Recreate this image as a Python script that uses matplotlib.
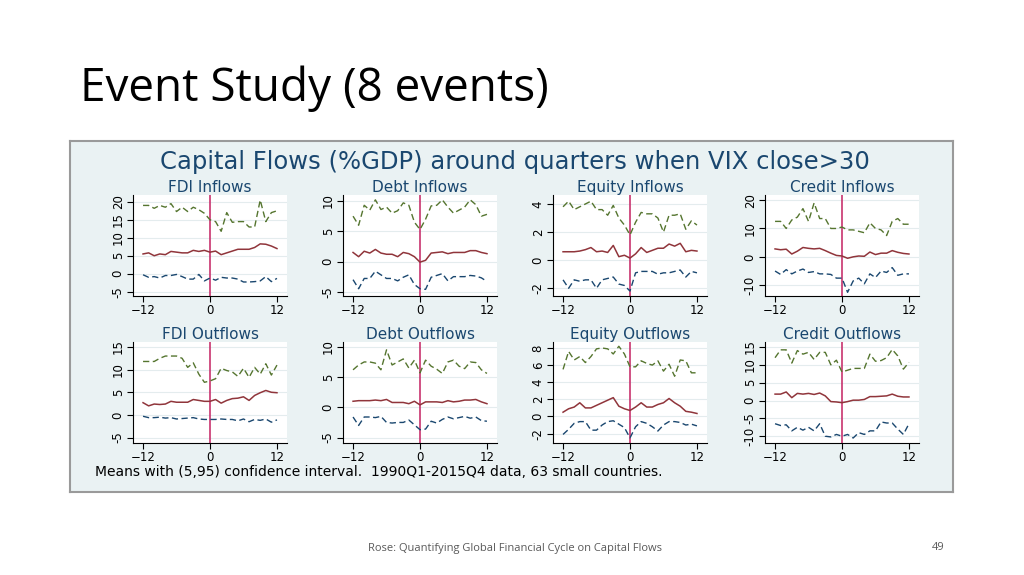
import matplotlib
matplotlib.use("Agg")
from matplotlib import pyplot as plt

# quarters around the VIX event
quarters = list(range(-12, 13))

# FDI inflows
fdi_in_hi = [19, 19, 18.2, 19, 18.5, 19.5, 17.3, 18.5, 17.3, 18.5, 17.8, 16.8, 15,
             14.5, 11.8, 17, 14.3, 14.5, 14.5, 13, 13, 20.5, 14.5, 17, 17.5]
fdi_in_mean = [5.5, 5.8, 5, 5.5, 5.3, 6.2, 6, 5.8, 5.8, 6.5, 6.2, 6.5, 6,
               6.3, 5.3, 5.8, 6.3, 6.8, 6.8, 6.8, 7.3, 8.3, 8.2, 7.7, 7]
fdi_in_lo = [-0.3, -1, -0.8, -1.2, -0.5, -0.5, -0.2, -0.8, -1.5, -1.5, -0.2, -2, -1.2,
             -1.8, -1, -1.2, -1.2, -1.5, -2.3, -2.3, -2.2, -2, -0.8, -2.2, -1.3]

# debt inflows
debt_in_hi = [7.5, 6, 9.3, 8.5, 10.2, 8.6, 9, 8, 8.4, 9.7, 9.3, 6.5, 5.3,
              7, 9.2, 9.3, 10.2, 9, 8, 8.5, 9, 10.2, 9.4, 7.5, 7.8]
debt_in_mean = [1.5, 0.8, 1.7, 1.4, 2, 1.4, 1.2, 1.2, 0.8, 1.5, 1.3, 0.8, -0.1,
                0.2, 1.4, 1.5, 1.6, 1.3, 1.5, 1.5, 1.5, 1.8, 1.8, 1.5, 1.3]
debt_in_lo = [-3, -4.5, -2.8, -2.8, -1.6, -2.2, -2.8, -2.8, -3.2, -2.6, -2.2, -3.8, -4.5,
              -4.6, -2.6, -2.3, -2, -3.2, -2.5, -2.5, -2.5, -2.3, -2.4, -2.7, -3.3]

# equity inflows
eq_in_hi = [3.8, 4.2, 3.6, 3.8, 4, 4.2, 3.6, 3.6, 3.2, 3.9, 3.0, 2.5, 1.8,
            2.7, 3.4, 3.3, 3.3, 3.0, 2.0, 3.2, 3.2, 3.3, 2.2, 2.8, 2.5]
eq_in_mean = [0.6, 0.6, 0.6, 0.65, 0.75, 0.9, 0.6, 0.65, 0.55, 1.05, 0.25, 0.35, 0.15,
              0.45, 0.9, 0.55, 0.7, 0.85, 0.85, 1.15, 1.0, 1.2, 0.6, 0.7, 0.65]
eq_in_lo = [-1.4, -2.0, -1.4, -1.5, -1.4, -1.4, -2.0, -1.4, -1.3, -1.2, -1.7, -1.8, -2.2,
            -0.9, -0.8, -0.8, -0.8, -1.0, -0.9, -0.9, -0.8, -0.7, -1.2, -0.8, -0.9]

# credit inflows
cr_in_hi = [12.5, 12.5, 10, 13, 14, 17, 12.5, 19, 13.5, 13.5, 10, 10, 10.5,
            9.5, 9.5, 9, 8.5, 12, 10, 9.5, 7.5, 12.5, 13.5, 11.5, 11.5]
cr_in_mean = [2.8, 2.5, 2.7, 1, 2, 3.3, 3, 2.8, 3, 2.2, 1.3, 0.5, 0.3,
              -0.5, 0, 0.3, 0.2, 1.7, 0.8, 1.3, 1.3, 2.2, 1.6, 1.2, 1]
cr_in_lo = [-5, -6.2, -4.5, -6, -5, -4.3, -5.5, -5.2, -6, -6, -6.2, -7.5, -7.5,
            -12.5, -8.5, -7.5, -9.5, -6, -7.3, -5, -5.5, -3.8, -6.5, -6, -6]

# FDI outflows
fdi_out_hi = [11.8, 11.8, 11.8, 12.5, 13, 13, 13, 12.5, 10.5, 11.5, 9, 7.2, 7.5,
              8, 10.3, 9.8, 9.5, 8.5, 10.3, 8.3, 10.5, 9, 11.3, 8.8, 11]
fdi_out_mean = [2.7, 2, 2.4, 2.3, 2.4, 3, 2.8, 2.8, 2.8, 3.4, 3.2, 3, 3,
                3.4, 2.6, 3.2, 3.6, 3.7, 4, 3.2, 4.3, 4.9, 5.4, 5, 4.9]
fdi_out_lo = [-0.3, -0.6, -0.6, -0.5, -0.7, -0.6, -0.9, -0.8, -0.7, -0.6, -0.9, -1.0, -1.0,
              -1.0, -0.9, -1.0, -1.0, -1.3, -0.9, -1.5, -1.0, -1.2, -0.9, -1.6, -1.1]

# debt outflows
debt_out_hi = [6.2, 7, 7.5, 7.5, 7.3, 6.2, 9.5, 7, 7.5, 8, 6.5, 7.8, 5.7,
               7.8, 6.8, 6.3, 5.6, 7.5, 7.8, 6.8, 6.4, 7.5, 7.4, 6.2, 5.6]
debt_out_mean = [1, 1.1, 1.1, 1.1, 1.2, 1.1, 1.3, 0.8, 0.8, 0.8, 0.6, 1, 0.4,
                 0.9, 0.9, 0.9, 0.8, 1.1, 0.9, 1.0, 1.2, 1.2, 1.3, 0.9, 0.6]
debt_out_lo = [-1.6, -3, -1.6, -1.6, -1.7, -1.5, -2.5, -2.6, -2.5, -2.5, -2.1, -2.9, -3.7,
               -3.6, -2.3, -2.6, -2, -1.6, -1.9, -1.7, -1.5, -1.8, -1.6, -2.2, -2.3]

# equity outflows
eq_out_hi = [5.5, 7.6, 6.6, 7, 6.3, 7, 7.9, 8, 7.9, 7.3, 8.2, 7.3, 5.8,
             5.8, 6.5, 6.2, 6, 6.5, 5.3, 6.1, 4.7, 6.6, 6.5, 5.1, 5.1]
eq_out_mean = [0.5, 0.9, 1.1, 1.6, 1.0, 1.0, 1.3, 1.6, 1.9, 2.2, 1.2, 0.9, 0.7,
               1.1, 1.6, 1.1, 1.1, 1.4, 1.6, 2.1, 1.6, 1.2, 0.6, 0.5, 0.35]
eq_out_lo = [-2.1, -1.5, -0.8, -0.6, -0.6, -1.6, -1.6, -1.0, -0.6, -0.5, -0.9, -1.3, -2.5,
             -1.2, -0.6, -0.8, -1.2, -1.7, -1.0, -0.6, -0.6, -0.7, -1.0, -0.9, -1.1]

# credit outflows
cr_out_hi = [12, 14.2, 14.2, 10.5, 14, 13, 13.5, 11.5, 13.5, 13.5, 10, 11.3, 8,
             8.5, 9, 9, 9, 13, 11, 11.2, 12, 14.3, 12.5, 8.8, 10.7]
cr_out_mean = [1.8, 1.8, 2.4, 0.8, 2, 1.8, 2, 1.7, 2.1, 1.3, -0.3, -0.4, -0.6,
               -0.3, 0.1, 0.1, 0.3, 1.1, 1.1, 1.2, 1.3, 1.8, 1.2, 1.0, 1.0]
cr_out_lo = [-6.5, -7, -6.8, -8.5, -7.5, -8.3, -7.5, -8.5, -6.5, -10, -10.2, -9.5, -10,
             -9.5, -10.5, -9, -9.5, -8.5, -8.5, -6, -6.3, -6.3, -8, -9.5, -6.5]

panel_titles = ["FDI Inflows", "Debt Inflows", "Equity Inflows", "Credit Inflows",
                "FDI Outflows", "Debt Outflows", "Equity Outflows", "Credit Outflows"]
panel_yticks = [[-5, 0, 5, 10, 15, 20], [-5, 0, 5, 10], [-2, 0, 2, 4], [-10, 0, 10, 20],
                [-5, 0, 5, 10, 15], [-5, 0, 5, 10], [-2, 0, 2, 4, 6, 8], [-10, -5, 0, 5, 10, 15]]
panel_ylims = [(-6.2, 21.9), (-5.7, 11), (-2.55, 4.64), (-13.8, 21.8),
               (-6.2, 16.1), (-5.9, 10.8), (-3.1, 8.7), (-11.9, 16.4)]
panel_series = [
    (fdi_in_hi, fdi_in_mean, fdi_in_lo),
    (debt_in_hi, debt_in_mean, debt_in_lo),
    (eq_in_hi, eq_in_mean, eq_in_lo),
    (cr_in_hi, cr_in_mean, cr_in_lo),
    (fdi_out_hi, fdi_out_mean, fdi_out_lo),
    (debt_out_hi, debt_out_mean, debt_out_lo),
    (eq_out_hi, eq_out_mean, eq_out_lo),
    (cr_out_hi, cr_out_mean, cr_out_lo),
]

W, H = 1024, 575
NAVY = "#1a476f"
MAROON = "#90353b"
GREEN = "#55752f"
VLINE = "#c8336e"
CHART_BG = "#eaf2f3"

fig = plt.figure(figsize=(W / 100, H / 100), dpi=100)
fig.patch.set_facecolor("white")


def px_axes(left, top, width, height, **kw):
    # axes placed by pixel box (top-left origin)
    return fig.add_axes([left / W, 1 - (top + height) / H, width / W, height / H], **kw)


# chart image frame, drawn as a background axes
bg = px_axes(70, 141, 883, 351, zorder=-5)
bg.set_xticks([])
bg.set_yticks([])
bg.set_facecolor(CHART_BG)
for sp in bg.spines.values():
    sp.set_color("#9a9a9a")
    sp.set_linewidth(1.5)

# slide title
fig.text(80 / W, 1 - 89 / H, "Event Study (8 events)", fontsize=33,
         family="Open Sans", va="center", ha="left", color="black")

fig.text(515 / W, 1 - 162 / H, "Capital Flows (%GDP) around quarters when VIX close>30",
         fontsize=17.5, family="DejaVu Sans", color=NAVY, ha="center", va="center")

lefts = [133, 343, 553, 765]
tops = [195, 342]
for i, title in enumerate(panel_titles):
    row, col = divmod(i, 4)
    ax = px_axes(lefts[col], tops[row], 154, 101)
    hi, mean, lo = panel_series[i]

    ax.axvline(0, color=VLINE, linewidth=1.2, zorder=1)
    ax.plot(quarters, hi, color=GREEN, linewidth=1, linestyle=(0, (4.5, 2.5)), zorder=2)
    ax.plot(quarters, mean, color=MAROON, linewidth=1.1, zorder=3)
    ax.plot(quarters, lo, color=NAVY, linewidth=1, linestyle=(0, (4.5, 2.5)), zorder=2)

    ax.set_xlim(-13.8, 13.8)
    ax.set_ylim(*panel_ylims[i])
    ax.set_xticks([-12, 0, 12])
    ax.set_yticks(panel_yticks[i])
    ax.set_yticklabels([str(t) for t in panel_yticks[i]], rotation=90, va="center")
    ax.tick_params(labelsize=8.5, length=4, width=0.8, colors="black", pad=2)
    for lab in ax.get_xticklabels() + ax.get_yticklabels():
        lab.set_family("DejaVu Sans")
    ax.grid(True, axis="y", color="#e4ecee", linewidth=0.8)
    ax.set_axisbelow(True)
    for side in ("top", "right"):
        ax.spines[side].set_visible(False)
    for side in ("left", "bottom"):
        ax.spines[side].set_linewidth(0.8)
    ax.set_title(title, fontsize=11, color=NAVY, family="DejaVu Sans", pad=2)

# chart note
fig.text(95 / W, 1 - 472 / H,
         "Means with (5,95) confidence interval.  1990Q1-2015Q4 data, 63 small countries.",
         fontsize=10, family="DejaVu Sans", color="black", ha="left", va="center")

# slide footer
fig.text(515 / W, 1 - 548 / H, "Rose: Quantifying Global Financial Cycle on Capital Flows",
         fontsize=8, family="Open Sans", color="#595959", ha="center", va="center")
fig.text(938 / W, 1 - 548 / H, "49", fontsize=8, family="Open Sans",
         color="#595959", ha="center", va="center")

fig.savefig("out.png", dpi=100)
